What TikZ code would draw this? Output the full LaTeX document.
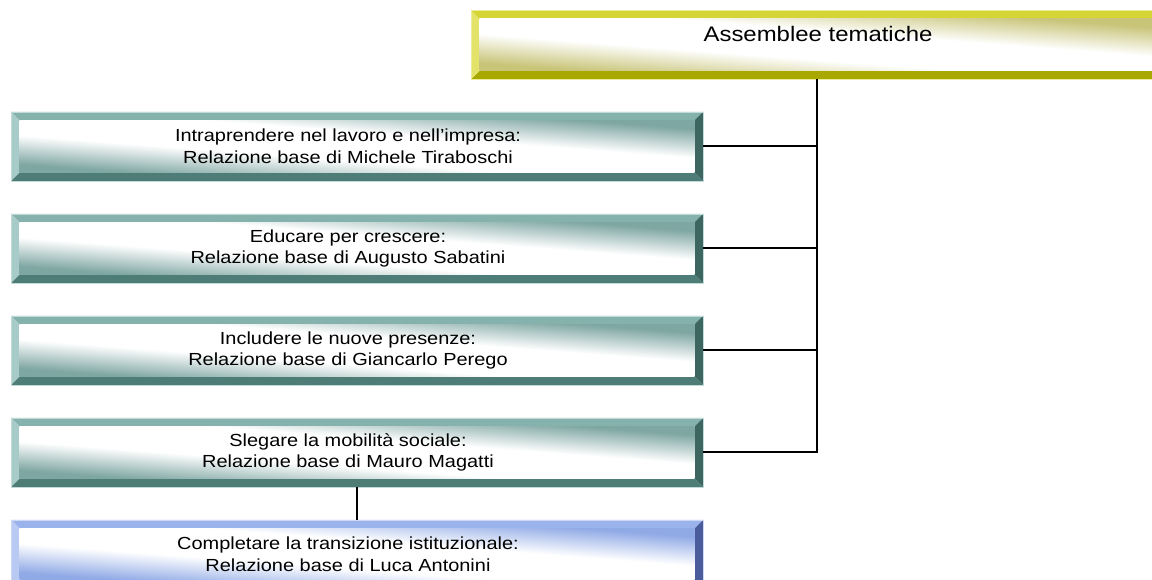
\documentclass[tikz,border=0pt]{standalone}
\usepackage{fontspec}
\setmainfont[FakeStretch=1.14]{Liberation Sans}
\definecolor{tealT}{HTML}{86B2AE}
\definecolor{tealL}{HTML}{A6CBC8}
\definecolor{tealB}{HTML}{4E7D78}
\definecolor{tealR}{HTML}{3D6662}
\definecolor{tealF}{HTML}{7EA6A2}
\definecolor{tealO}{HTML}{C2DAD8}
\definecolor{yelT}{HTML}{D5D535}
\definecolor{yelL}{HTML}{E3E36A}
\definecolor{yelB}{HTML}{A9A800}
\definecolor{yelR}{HTML}{8F8F00}
\definecolor{yelF}{HTML}{C8C478}
\definecolor{yelO}{HTML}{ECEC9A}
\definecolor{bluT}{HTML}{9BB3EC}
\definecolor{bluL}{HTML}{B8CAF2}
\definecolor{bluB}{HTML}{5068B0}
\definecolor{bluR}{HTML}{4A5C9C}
\definecolor{bluF}{HTML}{90AAE6}
\definecolor{bluO}{HTML}{CCD8F6}
\pgfdeclareverticalshading{tealface}{100bp}{color(0bp)=(tealF); color(20bp)=(tealF); color(40bp)=(white); color(60bp)=(white); color(80bp)=(tealF); color(100bp)=(tealF)}
\pgfdeclareverticalshading{yelface}{100bp}{color(0bp)=(yelF); color(20bp)=(yelF); color(40bp)=(white); color(60bp)=(white); color(80bp)=(yelF); color(100bp)=(yelF)}
\pgfdeclareverticalshading{bluface}{100bp}{color(0bp)=(bluF); color(20bp)=(bluF); color(40bp)=(white); color(60bp)=(white); color(80bp)=(bluF); color(100bp)=(bluF)}
\def\bv{8.5pt}
\tikzset{
  bevbox/.style n args={5}{rectangle, minimum width=692pt, minimum height=69pt,
    inner sep=0pt, outer sep=0pt, draw=#5, line width=0.8pt,
    path picture={
      \fill[#1] (path picture bounding box.north west) -- (path picture bounding box.north east)
        -- ([shift={(-\bv,-\bv)}]path picture bounding box.north east)
        -- ([shift={(\bv,-\bv)}]path picture bounding box.north west) -- cycle;
      \fill[#3] (path picture bounding box.south west) -- (path picture bounding box.south east)
        -- ([shift={(-\bv,\bv)}]path picture bounding box.south east)
        -- ([shift={(\bv,\bv)}]path picture bounding box.south west) -- cycle;
      \fill[#2] (path picture bounding box.north west) -- (path picture bounding box.south west)
        -- ([shift={(\bv,\bv)}]path picture bounding box.south west)
        -- ([shift={(\bv,-\bv)}]path picture bounding box.north west) -- cycle;
      \fill[#4] (path picture bounding box.north east) -- (path picture bounding box.south east)
        -- ([shift={(-\bv,\bv)}]path picture bounding box.south east)
        -- ([shift={(-\bv,-\bv)}]path picture bounding box.north east) -- cycle;
    }},
  tealbox/.style={bevbox={tealT}{tealL}{tealB}{tealR}{tealO}},
  yelbox/.style={bevbox={yelT}{yelL}{yelB}{yelR}{yelO}},
  blubox/.style={bevbox={bluT}{bluL}{bluB}{bluR}{bluO}},
  tlabel/.style={font=\fontsize{17.5pt}{21.5pt}\selectfont, align=center, text=black, inner sep=0pt},
  conn/.style={draw=black, line width=2pt}
}
\newcommand\boxface[2]{%
  \begin{scope}[transform canvas={shift={(#1.center)}, xscale=12.98}]
    \shade[shading=#2, shading angle=-45] (-26,-26) rectangle (26,26);
  \end{scope}}
\begin{document}
\begin{tikzpicture}[x=1pt,y=1pt]
\useasboundingbox (0,0) rectangle (1152,580);
\clip (0,0) rectangle (1152,580);
\fill[white] (0,0) rectangle (1152,580);
\node[yelbox] (top) at (817,535) {};
\node[tealbox] (b1) at (357,433.5) {};
\node[tealbox] (b2) at (357,331.5) {};
\node[tealbox] (b3) at (357,229.5) {};
\node[tealbox] (b4) at (357,127.5) {};
\node[blubox] (b5) at (357,25.5) {};
\boxface{top}{yelface}
\boxface{b1}{tealface}
\boxface{b2}{tealface}
\boxface{b3}{tealface}
\boxface{b4}{tealface}
\boxface{b5}{bluface}
\node[tlabel, font=\fontsize{21pt}{25pt}\selectfont, xshift=1pt, yshift=11pt] (ttop) at (top.center) {Assemblee tematiche};
\node[tlabel, xshift=-9pt] (t1) at (b1.center) {Intraprendere nel lavoro e nell’impresa:\\Relazione base di Michele Tiraboschi};
\node[tlabel, xshift=-9pt] (t2) at (b2.center) {Educare per crescere:\\Relazione base di Augusto Sabatini};
\node[tlabel, xshift=-9pt] (t3) at (b3.center) {Includere le nuove presenze:\\Relazione base di Giancarlo Perego};
\node[tlabel, xshift=-9pt] (t4) at (b4.center) {Slegare la mobilità sociale:\\Relazione base di Mauro Magatti};
\node[tlabel, xshift=-9pt] (t5) at (b5.center) {Completare la transizione istituzionale:\\Relazione base di Luca Antonini};
\draw[conn] (top.south) |- (b1.east);
\draw[conn] (top.south) |- (b2.east);
\draw[conn] (top.south) |- (b3.east);
\draw[conn] (top.south) |- (b4.east);
\draw[conn] (b4.south) -- (b5.north);
\end{tikzpicture}
\end{document}
